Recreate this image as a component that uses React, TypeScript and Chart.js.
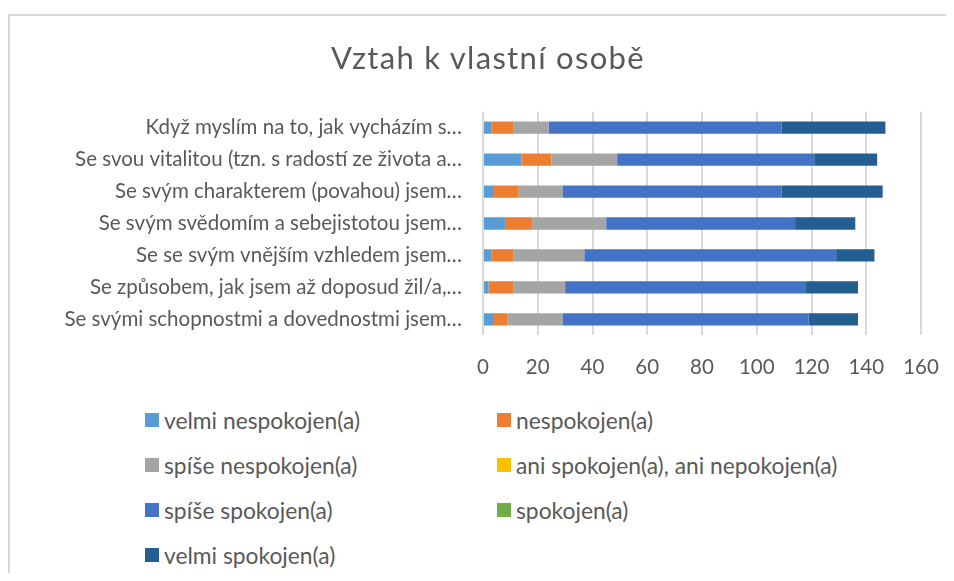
import React, { useEffect, useRef } from "react";
import { Chart, registerables } from "chart.js";

Chart.register(...registerables);

const titleText = "Vztah k vlastní osobě";

const categories = [
  "Když myslím na to, jak vycházím s…",
  "Se svou vitalitou (tzn. s radostí ze života a…",
  "Se svým charakterem (povahou) jsem…",
  "Se svým svědomím a sebejistotou jsem…",
  "Se se svým vnějším vzhledem jsem…",
  "Se způsobem, jak jsem až doposud žil/a,…",
  "Se svými schopnostmi a dovednostmi jsem…",
];

const seriesNames = [
  "velmi nespokojen(a)",
  "nespokojen(a)",
  "spíše nespokojen(a)",
  "ani spokojen(a), ani nepokojen(a)",
  "spíše spokojen(a)",
  "spokojen(a)",
  "velmi spokojen(a)",
];

const seriesColors = ["#5B9BD5", "#ED7D31", "#A5A5A5", "#FFC000", "#4472C4", "#70AD47", "#255E91"];

const velmiNespokojen = [3, 14, 4, 8, 3, 2, 4];
const nespokojen = [8, 11, 9, 10, 8, 9, 5];
const spiseNespokojen = [13, 24, 16, 27, 26, 19, 20];
const aniSpokojenAniNespokojen = [0, 0, 0, 0, 0, 0, 0];
const spiseSpokojen = [85, 72, 80, 69, 92, 88, 90];
const spokojen = [0, 0, 0, 0, 0, 0, 0];
const velmiSpokojen = [38, 23, 37, 22, 14, 19, 18];

const seriesValues = [
  velmiNespokojen,
  nespokojen,
  spiseNespokojen,
  aniSpokojenAniNespokojen,
  spiseSpokojen,
  spokojen,
  velmiSpokojen,
];

const xTicks = [0, 20, 40, 60, 80, 100, 120, 140, 160];

const FONT = "Lato, 'Open Sans', sans-serif";
const TEXT = "#595959";

export default function App() {
  const ref = useRef<HTMLCanvasElement | null>(null);

  useEffect(() => {
    const canvas = ref.current;
    if (!canvas) return;
    const chart = new Chart(canvas, {
      type: "bar",
      data: {
        labels: categories,
        datasets: seriesNames.map((name, i) => ({
          label: name,
          data: seriesValues[i],
          backgroundColor: seriesColors[i],
          borderWidth: 0,
          barPercentage: 0.385,
          categoryPercentage: 1,
        })),
      },
      options: {
        indexAxis: "y",
        responsive: false,
        animation: false,
        devicePixelRatio: 1,
        layout: { padding: { left: 0, right: 25, top: 95.7, bottom: 0 } },
        plugins: {
          legend: { display: false },
          tooltip: { enabled: false },
          title: { display: false },
        },
        scales: {
          x: {
            stacked: true,
            min: 0,
            max: 160,
            afterBuildTicks: (scale: any) => {
              scale.ticks = xTicks.map((v) => ({ value: v }));
            },
            afterFit: (scale: any) => {
              scale.height = 60.7;
            },
            grid: { color: "#d9d9d9", lineWidth: 2, drawTicks: false },
            border: { display: false },
            ticks: {
              color: TEXT,
              padding: 7,
              font: { family: FONT, size: 20.5, lineHeight: 2.4 },
            },
          },
          y: {
            stacked: true,
            afterFit: (scale: any) => {
              scale.width = 473;
            },
            grid: { display: false, drawTicks: false },
            border: { display: false },
            ticks: {
              color: TEXT,
              padding: 21,
              autoSkip: false,
              font: { family: FONT, size: 20.5 },
            },
          },
        },
      },
    });
    return () => chart.destroy();
  }, []);

  const legendRows = [404, 449, 494, 539];
  const legendCols = [135, 487];

  return (
    <div
      style={{
        position: "relative",
        marginTop: 6,
        width: 936,
        height: 557,
        borderTop: "2px solid #d9d9d9",
        borderLeft: "2px solid #d9d9d9",
        overflow: "hidden",
        fontFamily: FONT,
        background: "#fff",
      }}
    >
      <canvas ref={ref} width={936} height={380} style={{ position: "absolute", left: 0, top: 0 }} />
      <div
        style={{
          position: "absolute",
          left: 178,
          top: 22,
          width: 600,
          lineHeight: "38px",
          textAlign: "center",
          fontSize: 31,
          letterSpacing: "1.3px",
          color: TEXT,
          whiteSpace: "nowrap",
        }}
      >
        {titleText}
      </div>
      {seriesNames.map((name, i) => {
        const row = Math.floor(i / 2);
        const col = i % 2;
        const top = legendRows[row];
        const left = legendCols[col];
        return (
          <div
            key={name}
            style={{
              position: "absolute",
              left,
              top: top - 14,
              height: 28,
              display: "flex",
              alignItems: "center",
              whiteSpace: "nowrap",
              color: TEXT,
              fontSize: 22.8,
            }}
          >
            <span
              style={{
                display: "inline-block",
                width: 14,
                height: 14,
                background: seriesColors[i],
                marginRight: 5,
              }}
            />
            <span>{name}</span>
          </div>
        );
      })}
    </div>
  );
}
